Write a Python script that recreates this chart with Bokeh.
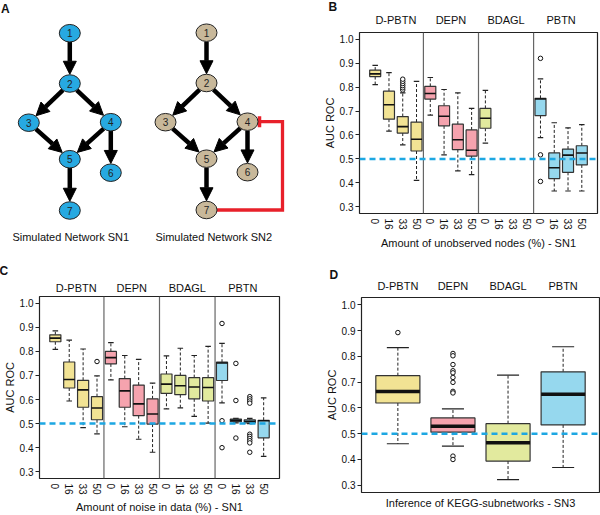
import numpy as np
from bokeh.plotting import figure
from bokeh.models import (Range1d, ColumnDataSource, Span, LinearAxis, FixedTicker,
                          PrintfTickFormatter, Arrow, NormalHead)
from bokeh.layouts import column, row
from bokeh.core.properties import value
from bokeh.embed import file_html
from bokeh.resources import INLINE

FONT = "Liberation Sans"

# ---------------- data ----------------
methods = ["D-PBTN", "DEPN", "BDAGL", "PBTN"]
levels = ["0", "16", "33", "50"]
method_colors = ["#F2E394", "#F5A3AE", "#E2EA9E", "#96D8EE"]
y_ticks = [0.3, 0.4, 0.5, 0.6, 0.7, 0.8, 0.9, 1.0]
y_limits = (0.272, 1.028)
chance_level = 0.5

# Panel B: unobserved nodes (16 boxes: 4 methods x 4 levels)
b_low  = [0.810, 0.616, 0.559, 0.410, 0.683, 0.517, 0.450, 0.434, 0.566, None, None, None, 0.589, 0.366, 0.366, 0.366]
b_q1   = [0.844, 0.666, 0.608, 0.533, 0.750, 0.638, 0.539, 0.512, 0.628, None, None, None, 0.681, 0.418, 0.444, 0.475]
b_med  = [0.855, 0.726, 0.635, 0.582, 0.773, 0.678, 0.580, 0.536, 0.670, None, None, None, 0.750, 0.463, 0.516, 0.525]
b_q3   = [0.871, 0.783, 0.677, 0.654, 0.803, 0.722, 0.645, 0.621, 0.711, None, None, None, 0.753, 0.525, 0.541, 0.555]
b_high = [0.891, 0.860, 0.776, 0.824, 0.840, 0.790, 0.776, 0.711, 0.786, None, None, None, 0.834, 0.651, 0.630, 0.643]
b_out_pos = [3, 3, 3, 3, 3, 3, 13, 13, 13]
b_out_val = [0.788, 0.797, 0.806, 0.815, 0.824, 0.833, 0.920, 0.517, 0.406]

# Panel C: noise in data
c_low  = [0.808, 0.594, 0.483, 0.457, 0.682, 0.487, 0.435, 0.381, 0.561, 0.565, 0.530, 0.502, 0.586, 0.503, 0.500, 0.364]
c_q1   = [0.840, 0.648, 0.568, 0.516, 0.748, 0.568, 0.533, 0.498, 0.626, 0.620, 0.603, 0.594, 0.679, 0.508, 0.503, 0.441]
c_med  = [0.855, 0.683, 0.640, 0.565, 0.774, 0.636, 0.582, 0.540, 0.664, 0.657, 0.652, 0.650, 0.752, 0.514, 0.510, 0.512]
c_q3   = [0.869, 0.756, 0.680, 0.612, 0.800, 0.687, 0.660, 0.603, 0.706, 0.700, 0.691, 0.691, 0.755, 0.519, 0.516, 0.514]
c_high = [0.885, 0.847, 0.810, 0.698, 0.836, 0.783, 0.767, 0.668, 0.781, 0.813, 0.783, 0.821, 0.833, 0.522, 0.522, 0.607]
c_out_pos = [4, 13, 13, 13, 14, 14, 14, 15, 15, 15, 15, 15, 15, 15, 15, 15, 15]
c_out_val = [0.758, 0.916, 0.512, 0.400, 0.750, 0.596, 0.440,
             0.612, 0.603, 0.594, 0.585, 0.456, 0.447, 0.438, 0.429, 0.420, 0.381]

# Panel D: KEGG subnetworks (4 boxes)
d_low  = [0.461, 0.452, 0.322, 0.369]
d_q1   = [0.619, 0.506, 0.394, 0.534]
d_med  = [0.664, 0.529, 0.465, 0.653]
d_q3   = [0.725, 0.561, 0.539, 0.740]
d_high = [0.834, 0.596, 0.727, 0.837]
d_out_pos = [1, 2, 2, 2, 2, 2, 2, 2, 2, 2, 2, 2]
d_out_val = [0.892, 0.811, 0.802, 0.768, 0.744, 0.736, 0.718, 0.699, 0.664, 0.658, 0.413, 0.400]

# Panel A: simulated networks (layout relative to node 1)
node_ids = ["1", "2", "3", "4", "5", "6", "7"]
node_dx = [0, 0, -41, 41, 0, 41, 0]
node_dy = [0, 50.3, 89.5, 89.0, 126.0, 139.5, 177.3]
edge_from = [1, 2, 2, 3, 4, 4, 5]
edge_to   = [2, 3, 4, 5, 5, 6, 7]
inhibit_from, inhibit_to = 7, 4          # SN2 only
network_names = ["Simulated Network SN1", "Simulated Network SN2"]
network_x0 = [69.3, 206.0]
network_y0 = [32.7, 32.2]
network_fill = ["#27A9E1", "#C8B89A"]
network_label_x = [70.3, 213.3]
network_label_y = [236, 236]

# ---------------- panel A ----------------
NODE_W, NODE_H = 21.0, 17.5
pA = figure(width=300, height=255, x_range=Range1d(0, 300), y_range=Range1d(255, 0),
            output_backend="svg", toolbar_location=None, x_axis_location=None,
            y_axis_location=None, min_border=0, outline_line_color=None,
            background_fill_color="white", border_fill_color="white")
pA.frame_align = False
pA.grid.visible = False
ea, eb = NODE_W / 2, NODE_H / 2
for k in range(2):
    nx = network_x0[k] + np.array(node_dx, dtype=float)
    ny = network_y0[k] + np.array(node_dy, dtype=float)
    fi = np.array(edge_from) - 1
    ti = np.array(edge_to) - 1
    dx = nx[ti] - nx[fi]
    dy = ny[ti] - ny[fi]
    L = np.hypot(dx, dy)
    ux, uy = dx / L, dy / L
    r = 1.0 / np.sqrt((ux / ea) ** 2 + (uy / eb) ** 2)
    src = ColumnDataSource(dict(xs=nx[fi] + ux * r, ys=ny[fi] + uy * r,
                                xe=nx[ti] - ux * (r + 0.5), ye=ny[ti] - uy * (r + 0.5)))
    pA.add_layout(Arrow(end=NormalHead(size=13, fill_color="black", line_color="black", line_width=1),
                        source=src, x_start="xs", y_start="ys", x_end="xe", y_end="ye",
                        line_width=4.5, line_color="black", level="underlay"))
    if k == 1:
        i7, i4 = inhibit_from - 1, inhibit_to - 1
        route_x = nx[i4] + 35
        bar_x = nx[i4] + ea + 1.5
        pA.line([nx[i7] + ea, route_x, route_x, bar_x], [ny[i7], ny[i7], ny[i4], ny[i4]],
                line_color="#E8202A", line_width=3.3, line_join="miter")
        pA.segment(x0=[bar_x], y0=[ny[i4] - 5.5], x1=[bar_x], y1=[ny[i4] + 5.5],
                   line_color="#E8202A", line_width=3.5)
    pA.ellipse(x=nx, y=ny, width=NODE_W, height=NODE_H, fill_color=network_fill[k],
               line_color="#222222", line_width=1)
    pA.text(x=nx, y=ny, text=node_ids, text_align="center", text_baseline="middle",
            text_font=value(FONT), text_font_size="10px", text_color="#222222")
pA.text(x=network_label_x, y=network_label_y, text=network_names, text_align="center",
        text_baseline="middle", text_font=value(FONT), text_font_size="11px", text_color="#111111")
pA.text(x=[0.5], y=[1.5], text=["A"], text_align="left", text_baseline="top",
        text_font=value(FONT), text_font_size="12px", text_font_style="bold", text_color="#111111")


# ---------------- box panels ----------------
def style_axis(ax):
    ax.axis_line_color = None
    ax.minor_tick_line_color = None
    ax.major_label_text_font = FONT
    ax.major_label_text_font_size = "10px"
    ax.major_label_text_color = "#111111"
    ax.axis_label_text_font = FONT
    ax.axis_label_text_font_size = "11px"
    ax.axis_label_text_font_style = "normal"
    ax.axis_label_text_color = "#111111"


def box_figure(width, height, borders, xr, pos, cols, lo, q1, md, q3, hi, opos, oval,
               xtick_pos, xtick_text, group_pos, xlabel, letter, letter_offset, letter_standoff,
               median_w, dividers, x_std, xl_std, grp_std):
    left, right, top, bottom = borders
    p = figure(width=width, height=height, x_range=Range1d(*xr), y_range=Range1d(*y_limits),
               output_backend="svg", toolbar_location=None, x_axis_location=None,
               y_axis_location=None, min_border_left=left, min_border_right=right,
               min_border_top=top, min_border_bottom=bottom,
               background_fill_color="white", border_fill_color="white",
               title=letter)
    p.frame_align = False
    p.grid.visible = False
    p.outline_line_color = "#222222"
    p.outline_line_width = 1.2
    p.outline_line_alpha = 1.0
    p.title.align = "left"
    p.title.offset = letter_offset
    try:
        p.title.standoff = letter_standoff
    except Exception:
        p.title.standoff = max(letter_standoff, 0)
    p.title.text_font = FONT
    p.title.text_font_size = "12px"
    p.title.text_font_style = "bold"
    p.title.text_color = "#111111"

    keep = [i for i in range(len(pos)) if md[i] is not None]
    x = np.array([pos[i] for i in keep], dtype=float)
    src = ColumnDataSource(dict(
        x=x, lo=[lo[i] for i in keep], q1=[q1[i] for i in keep], md=[md[i] for i in keep],
        q3=[q3[i] for i in keep], hi=[hi[i] for i in keep], col=[cols[i] for i in keep],
        xl=x - 0.4, xr=x + 0.4, cl=x - 0.2, cr=x + 0.2))
    # whiskers
    p.segment(x0="x", y0="q3", x1="x", y1="hi", source=src, line_color="#222222",
              line_width=1, line_dash="3 2")
    p.segment(x0="x", y0="q1", x1="x", y1="lo", source=src, line_color="#222222",
              line_width=1, line_dash="3 2")
    p.segment(x0="cl", y0="hi", x1="cr", y1="hi", source=src, line_color="#222222", line_width=1.2)
    p.segment(x0="cl", y0="lo", x1="cr", y1="lo", source=src, line_color="#222222", line_width=1.2)
    # boxes
    p.vbar(x="x", width=0.8, bottom="q1", top="q3", source=src, fill_color="col",
           line_color="#333333", line_width=1.2)
    p.segment(x0="xl", y0="md", x1="xr", y1="md", source=src, line_color="#111111",
              line_width=median_w)
    # outliers
    p.scatter(x=opos, y=oval, marker="circle", size=4.5, fill_color="white",
              line_color="#111111", line_width=1)

    for d in dividers:
        p.add_layout(Span(location=d, dimension="height", line_color="#666666", line_width=1.2))
    p.add_layout(Span(location=chance_level, dimension="width", line_color="#1DA7E2",
                      line_width=2.5, line_dash="6 4"))

    # y axis
    ya = LinearAxis(ticker=FixedTicker(ticks=y_ticks, minor_ticks=[]),
                    formatter=PrintfTickFormatter(format="%.1f"), axis_label="AUC ROC")
    style_axis(ya)
    ya.major_tick_line_color = "#222222"
    ya.major_tick_out = 4
    ya.major_tick_in = 0
    ya.major_label_standoff = 2
    ya.axis_label_standoff = 1
    p.add_layout(ya, "left")

    # x axis
    xa = LinearAxis(ticker=FixedTicker(ticks=xtick_pos, minor_ticks=[]), axis_label=xlabel)
    style_axis(xa)
    if xtick_pos:
        xa.major_label_overrides = {float(t): s for t, s in zip(xtick_pos, xtick_text)}
        xa.major_label_orientation = "vertical"
    xa.major_tick_line_color = None
    xa.major_tick_out = 0
    xa.major_tick_in = 0
    xa.major_label_standoff = x_std
    xa.axis_label_standoff = xl_std
    p.add_layout(xa, "below")

    # group labels above
    ga = LinearAxis(ticker=FixedTicker(ticks=group_pos, minor_ticks=[]))
    style_axis(ga)
    ga.major_label_overrides = {float(t): s for t, s in zip(group_pos, methods)}
    ga.major_label_text_font_size = "11px"
    ga.major_tick_line_color = None
    ga.major_tick_out = 0
    ga.major_tick_in = 0
    ga.major_label_standoff = grp_std
    p.add_layout(ga, "above")
    return p


pos16 = list(range(1, 17))
cols16 = [method_colors[i // 4] for i in range(16)]
xt16 = [levels[i % 4] for i in range(16)]
grp16 = [2.5, 6.5, 10.5, 14.5]
div16 = [4.5, 8.5, 12.5]

pB = box_figure(300, 255, (59, 3, 28, 42), (-0.14, 17.14), pos16, cols16,
                b_low, b_q1, b_med, b_q3, b_high, b_out_pos, b_out_val,
                pos16, xt16, grp16, "Amount of unobserved nodes (%) - SN1", "B", -31, -6,
                1.6, div16, 5, 4, 7)

pC = box_figure(300, 260, (37, 21, 41, 35), (-0.14, 17.14), pos16, cols16,
                c_low, c_q1, c_med, c_q3, c_high, c_out_pos, c_out_val,
                pos16, xt16, grp16, "Amount of noise in data (%) - SN1", "C", -40, 2,
                1.6, div16, 5, 3, 3)

pD = box_figure(300, 260, (61, 1, 42, 23), (0.34, 4.66), [1, 2, 3, 4], method_colors,
                d_low, d_q1, d_med, d_q3, d_high, d_out_pos, d_out_val,
                [], [], [1, 2, 3, 4], "Inference of KEGG-subnetworks - SN3", "D", -32, -10,
                3.5, [], 0, 4, 6)

layout = column(row(pA, pB), row(pC, pD))
open("out.html", "w").write(file_html(layout, INLINE))
